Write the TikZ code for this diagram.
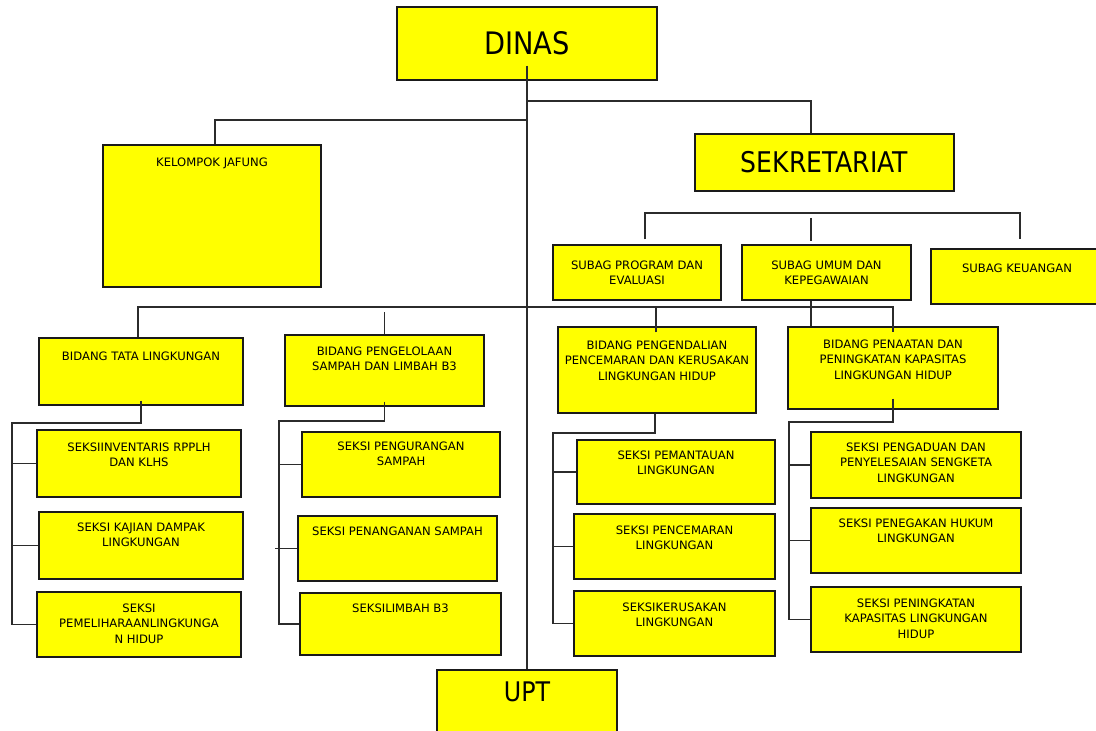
\documentclass[tikz,border=0pt]{standalone}
\usepackage{fontspec}
\setmainfont{DejaVu Sans}
\newfontfamily\condfont[FakeStretch=0.88]{DejaVu Sans}
\usetikzlibrary{positioning}

\definecolor{boxline}{HTML}{1A1A1A}
\definecolor{linecol}{HTML}{2B2B2B}
\definecolor{boxfill}{RGB}{255,255,0}

\tikzset{
  unit/.style 2 args={draw=boxline, line width=1.4pt, fill=boxfill, rectangle,
    inner sep=0pt, minimum width=#1, minimum height=#2},
  lbl/.style={anchor=north, align=center, inner sep=0pt, yshift=-12pt,
    font=\fontsize{11.6}{15.5}\selectfont},
  head/.style={font=\condfont\fontsize{#1}{#1}\selectfont},
  link/.style={draw=linecol, line width=1.4pt},
}

\begin{document}
\begin{tikzpicture}[x=1pt, y=1pt]

    \useasboundingbox (0,0) rectangle (1096,731);

    % top level
    \node[unit={260pt}{73pt}, head=31] (dinas) at (527,687.5) {DINAS};
    \node[unit={218pt}{142pt}, label={[lbl, yshift=-1pt]north:KELOMPOK JAFUNG}] (jafung) at (212,515) {};
    \node[unit={259pt}{57pt}, head=28.5] (sekretariat) at (824.5,568.5) {SEKRETARIAT};

    % subbagian
    \node[unit={168pt}{55pt}, label={[lbl, yshift=-4pt]north:{SUBAG PROGRAM DAN\\EVALUASI}}] (subprog) at (637,458.5) {};
    \node[unit={169pt}{55pt}, label={[lbl, yshift=-4pt]north:{SUBAG UMUM DAN\\KEPEGAWAIAN}}] (subumum) at (826.5,458.5) {};
    \node[unit={172pt}{55pt}, label={[lbl, yshift=-3pt]north:SUBAG KEUANGAN}] (subkeu) at (1017,454.5) {};

    % bidang
    \node[unit={204pt}{67pt}, label={[lbl, yshift=-2pt]north:BIDANG TATA LINGKUNGAN}] (tata) at (141,359.5) {};
    \node[unit={199pt}{71pt}, label={[lbl]north:{BIDANG PENGELOLAAN\\SAMPAH DAN LIMBAH B3}}] (kelola) at (384.5,360.5) {};
    \node[unit={198pt}{86pt}, label={[lbl, yshift=-2pt]north:{BIDANG PENGENDALIAN\\PENCEMARAN DAN KERUSAKAN\\LINGKUNGAN HIDUP}}] (kendali) at (657,361) {};
    \node[unit={210pt}{82pt}, label={[lbl, yshift=-1pt]north:{BIDANG PENAATAN DAN\\PENINGKATAN KAPASITAS\\LINGKUNGAN HIDUP}}] (taat) at (893,363) {};

    % seksi
    \node[unit={204pt}{67pt}, label={[lbl, yshift=-1pt]north:{SEKSIINVENTARIS RPPLH\\DAN KLHS}}] (inventaris) at (139,267.5) {};
    \node[unit={204pt}{67pt}, label={[lbl, yshift=1pt]north:{SEKSI KAJIAN DAMPAK\\LINGKUNGAN}}] (kajian) at (141,185.5) {};
    \node[unit={204pt}{65pt}, label={[lbl]north:{SEKSI\\PEMELIHARAANLINGKUNGA\\N HIDUP}}] (pelihara) at (139,106.5) {};

    \node[unit={198pt}{65pt}, label={[lbl, yshift=2pt]north:{SEKSI PENGURANGAN\\SAMPAH}}] (kurang) at (401,266.5) {};
    \node[unit={199pt}{65pt}, label={[lbl, yshift=1pt]north:SEKSI PENANGANAN SAMPAH}] (tangan) at (397.5,182.5) {};
    \node[unit={201pt}{62pt}, label={[lbl, yshift=1pt]north:SEKSILIMBAH B3}] (limbah) at (400.5,107) {};

    \node[unit={198pt}{64pt}, label={[lbl, yshift=1pt]north:{SEKSI PEMANTAUAN\\LINGKUNGAN}}] (pantau) at (676,259) {};
    \node[unit={201pt}{65pt}, label={[lbl]north:{SEKSI PENCEMARAN\\LINGKUNGAN}}] (cemar) at (674.5,184.5) {};
    \node[unit={201pt}{65pt}, label={[lbl]north:{SEKSIKERUSAKAN\\LINGKUNGAN}}] (rusak) at (674.5,107.5) {};

    \node[unit={210pt}{66pt}, label={[lbl, yshift=1pt]north:{SEKSI PENGADUAN DAN\\PENYELESAIAN SENGKETA\\LINGKUNGAN}}] (aduan) at (916,266) {};
    \node[unit={210pt}{65pt}, label={[lbl, yshift=1pt]north:{SEKSI PENEGAKAN HUKUM\\LINGKUNGAN}}] (tegak) at (916,190.5) {};
    \node[unit={210pt}{65pt}, label={[lbl]north:{SEKSI PENINGKATAN\\KAPASITAS LINGKUNGAN\\HIDUP}}] (tingkat) at (916,111.5) {};

    \node[unit={180pt}{70pt}, label={[lbl, head=27]north:UPT}] (upt) at (527,26) {};

    % trunk
    \draw[link] ([yshift=15pt]dinas.south) -- (upt.north);
    \coordinate (trunkS) at (527,630);
    \coordinate (trunkJ) at (527,611);
    \draw[link] (trunkS) -| ([xshift=-13.5pt]sekretariat.north);
    \draw[link] (trunkJ) -| ([xshift=3pt]jafung.north);

    % sekretariat bus
    \coordinate (sekL) at (645,518);
    \coordinate (sekR) at (1020,518);
    \coordinate (sekM) at (811,513);
    \draw[link] ([yshift=5pt]subprog.north -| sekL) -- (sekL) -- (sekR) -- ([yshift=9pt]subkeu.north -| sekR);
    \draw[link] (sekM) -- ([yshift=3pt]subumum.north -| sekM);
    \draw[link] (subumum.south -| sekM) -- (taat.north -| sekM);

    % bidang bus
    \coordinate (busL) at (138,424);
    \coordinate (busR) at (893,424);
    \draw[link] (tata.north -| busL) -- (busL) -- (busR) -- ([yshift=-6pt]taat.north);
    \draw[link] (kelola.north) -- ([yshift=-5pt]kelola.north |- busL);
    \draw[link] ([xshift=-1pt, yshift=-6pt]kendali.north) -- ([xshift=-1pt]kendali.north |- busL);

    % seksi buses
    \coordinate (tataL) at (12,308);
    \draw[link] ([yshift=5pt]tata.south) |- (tataL) -- (tataL |- pelihara.west) -- (pelihara.west);
    \draw[link] (tataL |- inventaris.west) -- (inventaris.west);
    \draw[link] (tataL |- kajian.west) -- (kajian.west);

    \coordinate (kelolaL) at (279,310);
    \draw[link] ([yshift=5pt]kelola.south) |- (kelolaL) -- (kelolaL |- limbah.west) -- (limbah.west);
    \draw[link] (kelolaL |- kurang.west) -- (kurang.west);
    \draw[link] ([xshift=-4pt]kelolaL |- tangan.west) -- (tangan.west);

    \coordinate (kendaliL) at (553,298);
    \draw[link] ([xshift=-2pt]kendali.south) |- (kendaliL) -- (kendaliL |- rusak.west) -- (rusak.west);
    \draw[link] (kendaliL |- pantau.west) -- (pantau.west);
    \draw[link] (kendaliL |- cemar.west) -- (cemar.west);

    \coordinate (taatL) at (789,309);
    \draw[link] ([yshift=11pt]taat.south) |- (taatL) -- (taatL |- tingkat.west) -- (tingkat.west);
    \draw[link] (taatL |- aduan.west) -- (aduan.west);
    \draw[link] (taatL |- tegak.west) -- (tegak.west);

\end{tikzpicture}
\end{document}
